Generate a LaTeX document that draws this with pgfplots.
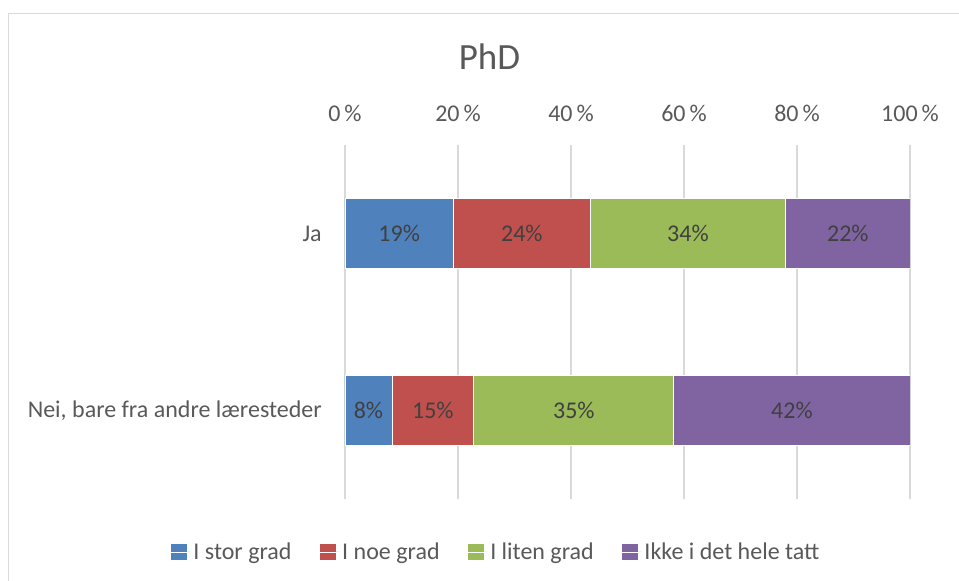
\documentclass[border=0pt]{standalone}
\usepackage{pgfplots}
\pgfplotsset{compat=1.18}
\usepackage{fontspec}
\setmainfont{Carlito}
\definecolor{c1}{HTML}{4F81BD}
\definecolor{c2}{HTML}{C0504D}
\definecolor{c3}{HTML}{9BBB59}
\definecolor{c4}{HTML}{8064A2}
\definecolor{txt}{HTML}{595959}
\definecolor{lbl}{HTML}{404040}
\definecolor{grd}{HTML}{D9D9D9}
\pgfplotsset{sqlegend/.style={legend image code/.code={\fill[##1,draw=none] (0pt,-6pt) rectangle (12pt,6pt); \path (0pt,0pt) -- (14.5pt,0pt);}}}
\begin{document}
\begin{tikzpicture}
\useasboundingbox (-258.75pt,-61.5pt) rectangle (460.5pt,374.25pt);
\draw[grd, line width=1.1pt] (-252.375pt,-61.5pt) -- (-252.375pt,364.125pt) -- (460.5pt,364.125pt);
\node[anchor=base, text=txt, font=\fontsize{27.75}{33}\selectfont, inner sep=0pt] at (108.375pt,321.75pt) {PhD};
\begin{axis}[
  scale only axis, width=423.75pt, height=265.5pt,
  xbar stacked, bar width=52.5pt,
  xmin=0, xmax=100, ymin=-0.5, ymax=1.5,
  xtick={0,20,...,100}, xticklabel pos=upper,
  xticklabel={\pgfmathprintnumber{\tick}\,\%},
  ytick={0,1}, yticklabels={{Nei, bare fra andre læresteder},Ja},
  /pgf/number format/assume math mode=true,
  tick label style={font=\fontsize{18}{21.6}\selectfont, text=txt},
  xticklabel style={anchor=base, yshift=17.25pt, inner sep=0pt},
  yticklabel style={anchor=east, xshift=-17.25pt, inner sep=0pt},
  major tick length=0pt,
  axis line style={draw=none},
  xmajorgrids, grid style={grd, line width=1pt},
  point meta=explicit symbolic,
  nodes near coords,
  nodes near coords align=center,
  every node near coord/.append style={font=\fontsize{18}{21.6}\selectfont, text=lbl},
  legend columns=4,
  legend style={draw=none, at={(0.268,-0.1497)}, anchor=center, font=\fontsize{18}{21.6}\selectfont, text=txt, /tikz/every even column/.append style={column sep=19pt}},
]
\addplot[fill=c1, draw=white, line width=0.5pt, sqlegend] coordinates {(19.2,1) [19\%] (8.3,0) [8\%]};
\addplot[fill=c2, draw=white, line width=0.5pt, sqlegend] coordinates {(24.2,1) [24\%] (14.5,0) [15\%]};
\addplot[fill=c3, draw=white, line width=0.5pt, sqlegend] coordinates {(34.6,1) [34\%] (35.4,0) [35\%]};
\addplot[fill=c4, draw=white, line width=0.5pt, sqlegend] coordinates {(22.0,1) [22\%] (41.8,0) [42\%]};
\legend{I stor grad, I noe grad, I liten grad, Ikke i det hele tatt}
\end{axis}
\end{tikzpicture}
\end{document}
